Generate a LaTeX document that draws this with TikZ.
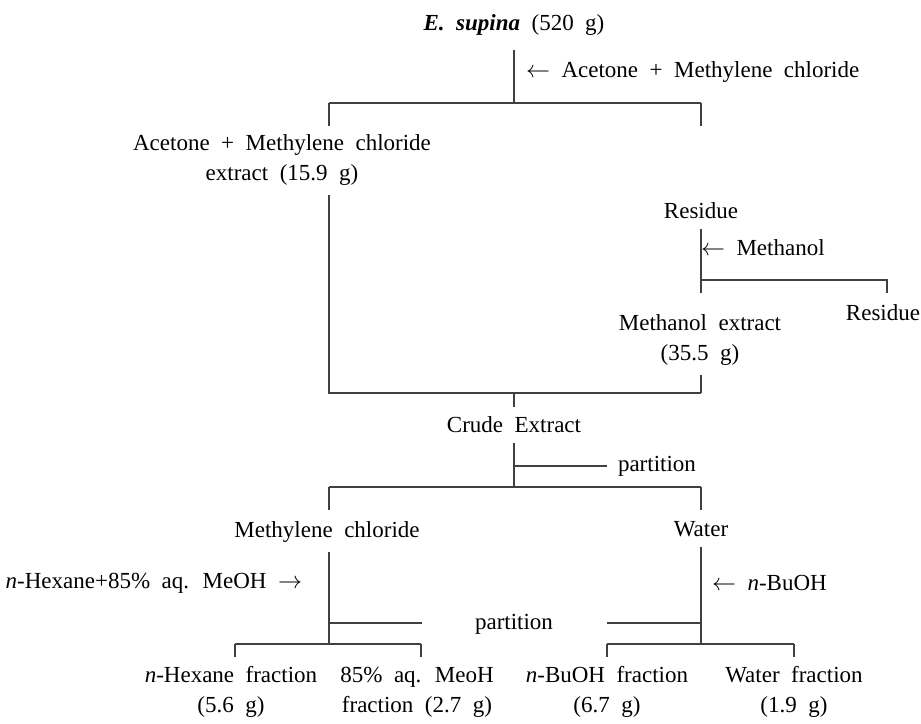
\documentclass[tikz,border=0pt]{standalone}
\usepackage{fontspec}
\setmainfont{Liberation Serif}
\usetikzlibrary{calc}

\newcommand\widesp{\spaceskip 0.5em\relax}
\tikzset{
  txt/.style={font={\fontsize{11.5}{15}\selectfont\widesp}, align=center, inner sep=1pt, outer sep=4pt},
  side/.style={txt, inner sep=0pt, outer sep=0pt},
  ln/.style={line width=0.6pt, black!75}
}

\begin{document}
\begin{tikzpicture}[x=0.5pt, y=-0.5pt]
\useasboundingbox (0,0) rectangle (921,723);

% Extraction of the plant
\node[txt] (plant) at (514,25) {\textbf{\textit{E. supina}} (520 g)};
\node[side, anchor=west] (solv1) at (526,72) {$\leftarrow$ Acetone + Methylene chloride};
\coordinate (j1) at (514,103);
\coordinate (j1l) at (329,103);
\coordinate (j1r) at (701,103);
\draw[ln, shorten <=2.5pt] (plant.south) -- (j1);
\draw[ln] (j1l) -- (j1r);
\draw[ln] (j1l) -- ++(0,23);
\draw[ln] (j1r) -- ++(0,23);
\node[txt] (ext1) at (282,160) {Acetone + Methylene chloride\\extract (15.9 g)};

% Residue with methanol
\node[txt] (res1) at (701,211) {Residue};
\node[side, anchor=west] (solv2) at (701,248) {$\leftarrow$ Methanol};
\coordinate (j3) at (701,280);
\coordinate (j3r) at (887,280);
\draw[ln] (res1.south) -- (j3) -- ++(0,13);
\draw[ln] (j3) -- (j3r) -- ++(0,13);
\node[side] (res2) at (883,313) {Residue};
\node[txt] (ext2) at (700,340) {Methanol extract\\(35.5 g)};

% Combined crude extract
\coordinate (j2l) at (329,393);
\coordinate (j2r) at (701,393);
\coordinate (j2) at (514,393);
\draw[ln] (ext1.south -| j1l) -- (j2l) -- (j2r);
\draw[ln] (ext2.south -| j2r) -- (j2r);
\node[txt] (crude) at (514,425) {Crude Extract};
\draw[ln] (j2) -- (crude.north);

% First partition
\coordinate (j4) at (514,487);
\coordinate (j4l) at (329,487);
\coordinate (j4r) at (701,487);
\coordinate (p1) at (514,466);
\coordinate (p1r) at (607,466);
\node[side, anchor=west] (part1) at (618,466) {partition};
\draw[ln] (crude.south) -- (j4);
\draw[ln] (p1) -- (p1r);
\draw[ln] (j4l) -- (j4r);
\draw[ln] (j4l) -- ++(0,23);
\draw[ln] (j4r) -- ++(0,23);
\node[txt] (mc) at (327,532) {Methylene chloride};
\node[txt] (water) at (701,529) {Water};

% Second partition
\node[side, anchor=east] (solv3) at (302,583) {\textit{n}-Hexane+85\% aq. MeOH $\rightarrow$};
\node[side, anchor=west] (solv4) at (712,583) {$\leftarrow$ \textit{n}-BuOH};
\node[side] (part2) at (514,624) {partition};
\coordinate (j5l) at (329,644);
\coordinate (j5r) at (701,644);
\coordinate (p2l) at (422,623);
\coordinate (p2r) at (607,623);
\draw[ln] (mc.south -| j5l) -- (j5l);
\draw[ln] (water.south -| j5r) -- (j5r);
\draw[ln] (j5l |- p2l) -- (p2l);
\draw[ln] (p2r) -- (j5r |- p2r);

% Fractions
\coordinate (b1) at (235,644);
\coordinate (b2) at (421,644);
\coordinate (b3) at (607,644);
\coordinate (b4) at (794,644);
\draw[ln] (b1) -- (b2);
\draw[ln] (b3) -- (b4);
\foreach \b in {b1,b2,b3,b4}
  \draw[ln] (\b) -- ++(0,13);
\node[txt] (f1) at (231,692) {\textit{n}-Hexane fraction\\(5.6 g)};
\node[txt] (f2) at (417,692) {85\% aq. MeoH\\fraction (2.7 g)};
\node[txt] (f3) at (607,692) {\textit{n}-BuOH fraction\\(6.7 g)};
\node[txt] (f4) at (794,692) {Water fraction\\(1.9 g)};
\end{tikzpicture}
\end{document}
